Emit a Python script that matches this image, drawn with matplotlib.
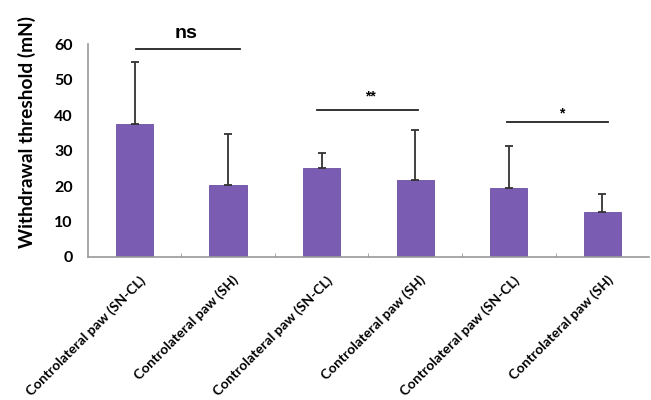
import matplotlib
matplotlib.use("Agg")
import matplotlib.pyplot as plt
import matplotlib.transforms as mtransforms
import numpy as np

categories = [
    "Controlateral paw (SN-CL)",
    "Controlateral paw (SH)",
    "Controlateral paw (SN-CL)",
    "Controlateral paw (SH)",
    "Controlateral paw (SN-CL)",
    "Controlateral paw (SH)",
]
means = [37.5, 20.2, 25.2, 21.7, 19.5, 12.8]
errors = [17.5, 14.4, 4.2, 14.1, 11.8, 4.9]
y_ticks = [0, 10, 20, 30, 40, 50, 60]

# significance brackets: (x start, x end, line height, label, label x, label y)
brackets = [
    (0.01, 1.13, 58.5, "ns", 0.55, 60.6),
    (1.95, 3.03, 41.4, "**", 2.52, 43.2),
    (3.98, 5.06, 38.0, "*", 4.57, 38.6),
]

bar_color = "#7a5cb2"

fig = plt.figure(figsize=(6.51, 4.0), dpi=100)
ax = fig.add_axes([0.135, 0.3575, 0.862, 0.5325])

x = np.arange(len(categories))
ax.bar(x, means, width=0.4, color=bar_color, edgecolor="#6a4fa0", linewidth=0.6, zorder=2)
ax.errorbar(x, means, yerr=[np.zeros(len(errors)), errors], fmt="none",
            ecolor="#333333", elinewidth=1.3, capsize=3, capthick=1.3, zorder=3)

ax.set_xlim(-0.5, len(categories) - 0.5)
ax.set_ylim(0, 60)
ax.set_yticks(y_ticks)
ax.set_yticklabels([str(t) for t in y_ticks], fontfamily="Lato", fontweight="bold", fontsize=11.5)
ax.set_ylabel("Withdrawal threshold (mN)", fontfamily="Lato", fontweight="bold", fontsize=13.8)
ax.yaxis.set_label_coords(-0.092, 0.587)

ax.set_xticks(x)
ax.set_xticklabels(categories, rotation=45, ha="right", rotation_mode="anchor",
                   fontfamily="Lato", fontweight="bold", fontsize=10)
ax.tick_params(axis="x", length=0, pad=12)
shift = mtransforms.ScaledTranslation(4 / 100, 0, fig.dpi_scale_trans)
for lbl in ax.get_xticklabels():
    lbl.set_transform(lbl.get_transform() + shift)
ax.set_xticks(np.arange(0.5, len(categories) - 0.5, 1.0), minor=True)
ax.tick_params(axis="x", which="minor", length=3, color="#999999", direction="in")
ax.tick_params(axis="y", length=0, pad=11)

for side in ("top", "right"):
    ax.spines[side].set_visible(False)
ax.spines["left"].set_color("#999999")
ax.spines["bottom"].set_color("#999999")
ax.spines["left"].set_linewidth(1.2)
ax.spines["bottom"].set_linewidth(1.2)

for x0, x1, h, label, tx, ty in brackets:
    ax.plot([x0, x1], [h, h], color="#222222", lw=1.3, clip_on=False, zorder=4)
    ax.text(tx, ty, label, ha="center", va="bottom",
            fontfamily="Liberation Sans", fontweight="bold",
            fontsize=14 if label == "ns" else 10, clip_on=False)

fig.savefig("out.png", dpi=100, facecolor="white")
